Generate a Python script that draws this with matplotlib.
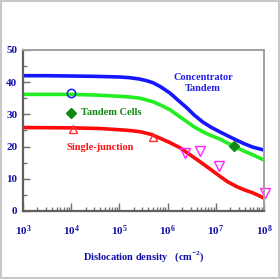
import numpy as np
import matplotlib
matplotlib.use("Agg")
import matplotlib.pyplot as plt
from matplotlib.patches import Rectangle

plt.rcParams['font.family'] = ['Liberation Serif', 'DejaVu Serif']
plt.rcParams['mathtext.fontset'] = 'custom'
plt.rcParams['mathtext.rm'] = 'Liberation Serif'
plt.rcParams['mathtext.bf'] = 'Liberation Serif:bold'

# curves (x given as log10 of dislocation density)
conc_exp = [3.0, 3.5, 4.0, 4.5, 5.0, 5.2, 5.4, 5.55, 5.7, 5.85, 6.05, 6.2, 6.4, 6.55, 6.73, 6.9, 7.09, 7.25, 7.44, 7.6, 7.77, 8.0]
conc_eff = [42.0, 42.0, 41.9, 41.8, 41.6, 41.4, 41.0, 40.5, 39.8, 38.6, 36.6, 34.6, 32.0, 29.8, 27.6, 26.0, 24.5, 23.3, 21.9, 20.8, 19.8, 18.9]

tand_exp = [3.0, 4.0, 4.5, 5.0, 5.2, 5.43, 5.7, 5.85, 6.05, 6.2, 6.4, 6.55, 6.73, 6.9, 7.09, 7.25, 7.44, 7.6, 7.77, 8.0]
tand_eff = [36.2, 36.2, 36.0, 35.6, 35.4, 35.0, 33.9, 32.9, 31.4, 29.8, 27.7, 26.1, 24.6, 23.4, 22.3, 21.0, 19.6, 18.5, 17.4, 15.8]

single_exp = [3.0, 4.0, 4.6, 5.01, 5.2, 5.43, 5.65, 5.84, 6.05, 6.26, 6.45, 6.67, 6.9, 7.09, 7.25, 7.44, 7.6, 7.77, 8.0]
single_eff = [25.9, 25.8, 25.6, 25.2, 25.0, 24.6, 23.8, 22.6, 21.2, 19.6, 17.6, 15.3, 12.8, 10.7, 9.0, 7.5, 6.5, 5.6, 4.0]

# measured points
circ_x, circ_y = [1.0e4], [36.6]
diam_x, diam_y = [1.0e4, 2.4e7], [30.3, 20.2]
tri_x, tri_y = [1.1e4, 5.0e5], [25.5, 22.9]
dtri_x, dtri_y = [2.3e6, 4.7e6, 1.17e7, 1.07e8], [17.9, 18.7, 14.1, 5.5]

navy = '#1010a8'

fig = plt.figure(figsize=(2.8, 2.79), dpi=100)
ax = fig.add_axes([0.082, 0.244, 0.861, 0.577])

ax.plot(10**np.array(conc_exp), conc_eff, color='#1515ff', lw=2.6, solid_capstyle='round')
ax.plot(10**np.array(tand_exp), tand_eff, color='#22ee22', lw=2.6, solid_capstyle='round')
ax.plot(10**np.array(single_exp), single_eff, color='#ff0a0a', lw=2.6, solid_capstyle='round')

ax.plot(circ_x, circ_y, 'o', mfc='none', mec='#1a1aff', mew=1.1, ms=6)
ax.plot(diam_x, diam_y, 'D', color='#118811', ms=5.5)
ax.plot(tri_x, tri_y, '^', mfc='none', mec='#ff3030', mew=1.0, ms=5.5)
ax.plot(dtri_x, dtri_y, 'v', mfc='none', mec='#ff22ff', mew=1.0, ms=7, clip_on=False)

ax.set_xscale('log')
ax.set_xlim(1e3, 1e8)
ax.set_ylim(0, 50)
ax.set_xticks([1e3, 1e4, 1e5, 1e6, 1e7, 1e8])
ax.set_xticklabels([r'$\mathbf{10^{%d}}$' % e for e in range(3, 9)])
ax.set_yticks([0, 10, 20, 30, 40, 50])
ax.set_yticks([5, 15, 25, 35, 45], minor=True)

ax.tick_params(axis='both', which='both', direction='in', color='#707070', width=1.0)
ax.tick_params(axis='x', which='major', length=6, pad=9, labelsize=8, labelcolor=navy)
ax.tick_params(axis='x', which='minor', length=3)
ax.tick_params(axis='y', which='major', length=5, pad=4, labelsize=8, labelcolor=navy)
ax.tick_params(axis='y', which='minor', length=3)
for lab in ax.get_yticklabels():
    lab.set_fontweight('bold')

for s in ['left', 'bottom']:
    ax.spines[s].set_color('#606060')
    ax.spines[s].set_linewidth(1.6)
for s in ['top', 'right']:
    ax.spines[s].set_color('#a0a0a0')
    ax.spines[s].set_linewidth(1.4)

ax.set_xlabel(r'Dislocation density   (cm$^{\mathbf{-2}}$)', fontsize=7.5,
              fontweight='bold', color=navy, labelpad=8)

W, H = 280.0, 279.0
ax.text(203 / W, 1 - 83 / H, 'Concentrator\nTandem', transform=fig.transFigure, fontsize=7.5,
        fontweight='bold', color='#2020ee', ha='center', va='center', linespacing=1.2)
ax.text(81 / W, 1 - 113 / H, 'Tandem Cells', transform=fig.transFigure, fontsize=7.5,
        fontweight='bold', color='#118811', ha='left', va='center')
ax.text(66 / W, 1 - 148 / H, 'Single-junction', transform=fig.transFigure, fontsize=7.5,
        fontweight='bold', color='#ff1010', ha='left', va='center')

fig.patches.append(Rectangle((0.005, 0.005), 0.99, 0.99, transform=fig.transFigure,
                             fill=False, ec='#c8c8c8', lw=1.5))

plt.savefig('out.png', dpi=100)
